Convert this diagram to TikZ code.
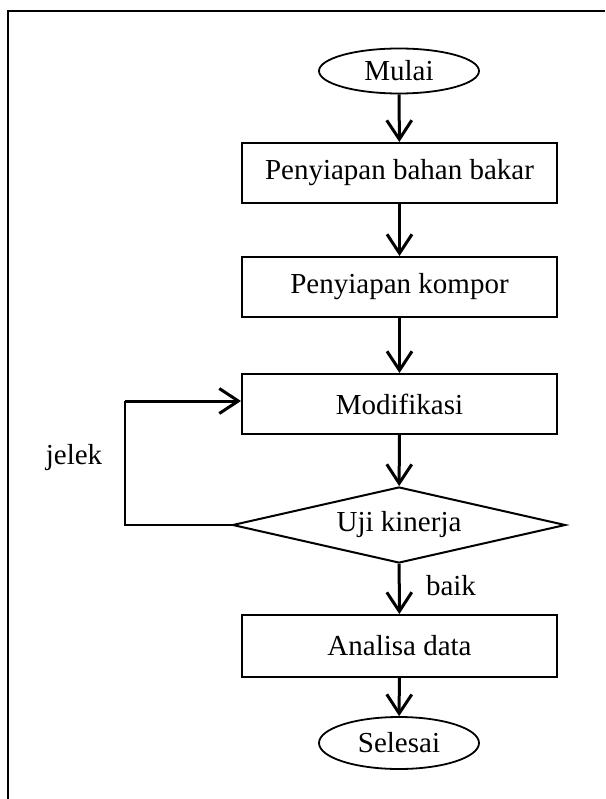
\documentclass[tikz,border=0pt]{standalone}
\usepackage{fontspec}
\setmainfont{Liberation Serif}
\usetikzlibrary{shapes.geometric,arrows.meta}
\begin{document}
\begin{tikzpicture}[x=1pt,y=-1pt,
  every node/.style={font=\fontsize{29}{31}\selectfont},
  procbox/.style={draw,line width=2pt,rectangle,minimum width=315pt,inner sep=0pt},
  termbox/.style={draw,line width=1.8pt,ellipse,minimum width=160pt,inner sep=0pt},
  decbox/.style={draw,line width=2pt,diamond,aspect=4.38,minimum width=333pt,minimum height=76pt,inner sep=0pt},
  flow/.style={line width=3pt,-{Straight Barb[length=19pt,width=25pt,line width=3pt]}},
  thinline/.style={line width=2pt},
  lbl/.style={inner sep=0pt}]
\useasboundingbox (0,0) rectangle (605,799);
\fill[white] (0,0) rectangle (605,799);
% frame
\draw[line width=2.5pt] (8,799) -- (8,11) -- (605,11);
% nodes
\node[termbox,minimum height=45pt] (mulai) at (399,71) {Mulai};
\node[procbox,minimum height=60pt] (b1) at (399.5,173) {Penyiapan bahan bakar};
\node[procbox,minimum height=60pt] (b2) at (399.5,287) {Penyiapan kompor};
\node[procbox,minimum height=60pt] (b3) at (399.5,404) {Modifikasi};
\node[decbox] (uji) at (399,525) {Uji kinerja};
\node[procbox,minimum height=62pt] (b4) at (399.5,646) {Analisa data};
\node[termbox,minimum height=52pt] (sel) at (399,743) {Selesai};
% connectors
\draw[flow] (mulai) -- (b1);
\draw[flow] (b1) -- (b2);
\draw[flow] (b2) -- (b3);
\draw[flow] (b3) -- (uji);
\draw[flow] (uji) -- (b4);
\draw[flow] (b4) -- (sel);
% loop
\coordinate (c1) at (125,525);
\coordinate (c2) at (125,401);
\draw[thinline] (uji.west) -- (c1) -- (c2);
\draw[flow] (c2) -- (c2 -| b3.west);
% labels
\node[lbl] (jelek) at (74,458) {jelek};
\node[lbl] (baik) at (451,586) {baik};
\end{tikzpicture}
\end{document}
